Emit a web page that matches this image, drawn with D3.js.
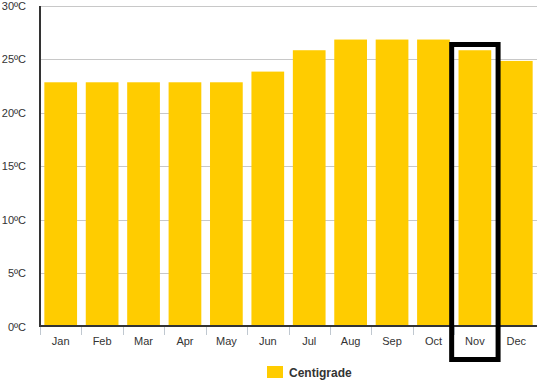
<!DOCTYPE html>
<html><head><meta charset="utf-8">
<script src="https://cdn.jsdelivr.net/npm/d3@7"></script>
<style>
body{margin:0;background:#fff;}
text{font-family:Arial,"Liberation Sans",sans-serif;}
</style></head>
<body><svg id="c" width="537" height="384"></svg>
<script>
const months = ["Jan","Feb","Mar","Apr","May","Jun","Jul","Aug","Sep","Oct","Nov","Dec"];
const centigrade = [23,23,23,23,23,24,26,27,27,27,26,25];
const yTicks = [0,5,10,15,20,25,30];
const highlightMonth = "Nov";
const seriesName = "Centigrade";

const svg = d3.select("#c");
const x = d3.scaleBand().domain(months).range([40,537]);
const y = d3.scaleLinear().domain([0,30]).range([326.5,6]);
const barW = x.bandwidth()*0.79;

// gridlines
svg.append("g").selectAll("line").data(yTicks.filter(d=>d>0)).join("line")
  .attr("x1",40).attr("x2",537).attr("y1",d=>Math.round(y(d))+0.5).attr("y2",d=>Math.round(y(d))+0.5)
  .attr("stroke","#c8c8c8").attr("stroke-width",1);

// bars
svg.append("g").selectAll("rect").data(months).join("rect")
  .attr("x",(d)=>x(d)+(x.bandwidth()-barW)/2)
  .attr("y",(d,i)=>y(centigrade[i])+1.5)
  .attr("width",barW)
  .attr("height",(d,i)=>y(0)-y(centigrade[i])-1.5)
  .attr("fill","#FFCC00");

// y labels
svg.append("g").selectAll("text").data(yTicks).join("text")
  .attr("x",26).attr("y",d=>y(d)+4)
  .attr("text-anchor","end").attr("font-size",11).attr("fill","#333")
  .text(d=>d+"ºC");

// x ticks
svg.append("g").selectAll("line").data(months.concat(["end"])).join("line")
  .attr("x1",(d,i)=>Math.round(40+i*x.step())+0.5).attr("x2",(d,i)=>Math.round(40+i*x.step())+0.5)
  .attr("y1",326).attr("y2",335).attr("stroke","#c0c8d0");

// x labels
svg.append("g").selectAll("text").data(months).join("text")
  .attr("x",d=>x(d)+x.bandwidth()/2).attr("y",345)
  .attr("text-anchor","middle").attr("font-size",11).attr("fill","#333")
  .text(d=>d);

// axes lines
svg.append("line").attr("x1",40).attr("x2",40).attr("y1",6).attr("y2",327).attr("stroke","#333").attr("stroke-width",2);
svg.append("line").attr("x1",39).attr("x2",537).attr("y1",326).attr("y2",326).attr("stroke","#333").attr("stroke-width",2);

// highlight
const hx = x(highlightMonth);
svg.append("rect").attr("x",hx-2.5).attr("y",44.5).attr("width",x.bandwidth()+5).attr("height",315)
  .attr("fill","none").attr("stroke","#000").attr("stroke-width",5);

// legend
const lg = svg.append("g");
lg.append("rect").attr("x",267).attr("y",366).attr("width",16).attr("height",12).attr("fill","#FFCC00");
lg.append("text").attr("x",289).attr("y",377).attr("font-size",12).attr("font-weight","bold").attr("fill","#333").text(seriesName);
</script></body></html>
